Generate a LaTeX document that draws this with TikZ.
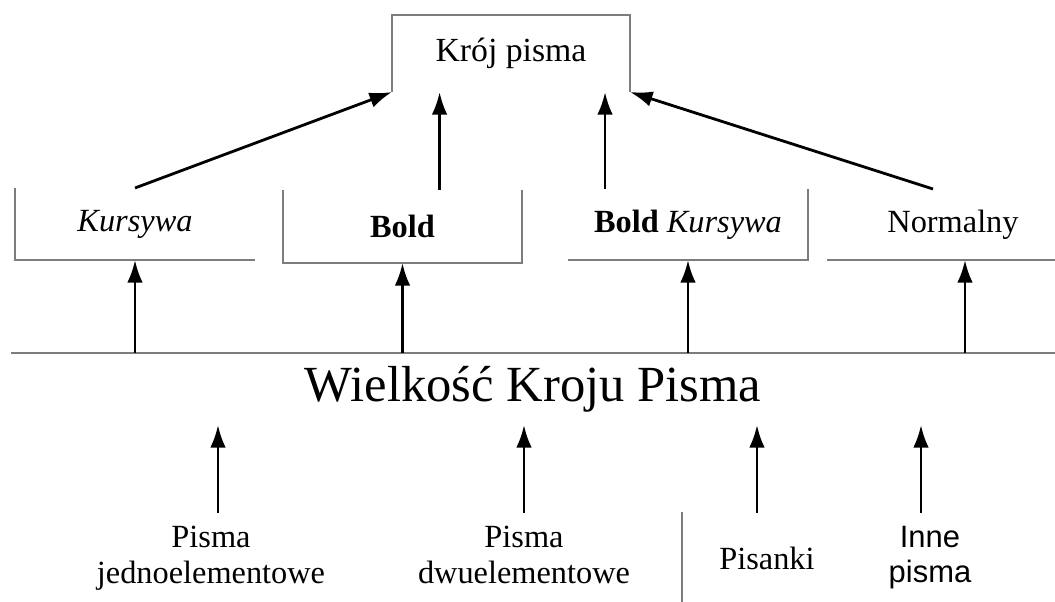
\documentclass[tikz,border=0pt]{standalone}
\usepackage{fontspec}
\setmainfont{Liberation Serif}
\newfontfamily\arialfont{Liberation Sans}
\usetikzlibrary{arrows.meta,calc}

\definecolor{rimgray}{RGB}{125,125,125}

\tikzset{
  box/.style={inner sep=0pt, outer sep=0pt, align=center},
  rim/.style={draw=rimgray, line width=1.3pt},
  up/.style={-{Latex[length=16pt,width=11pt]}, line width=2pt},
  small/.style={font=\fontsize{23}{25}\selectfont}
}

\begin{document}
\begin{tikzpicture}[x=0.025cm, y=-0.025cm]
  \useasboundingbox (0,0) rectangle (1055,602);

  % top and second row
  \node[box, minimum width=5.95cm, minimum height=1.925cm, font=\fontsize{24}{28}\selectfont] (kroj) at (511,53.5) {Krój pisma};
  \node[box, small, minimum width=6cm, minimum height=1.8cm] (kursywa) at (135,224) {\textit{Kursywa}};
  \node[box, small, minimum width=5.975cm, minimum height=1.825cm] (bold) at (402.5,226.5) {\textbf{Bold}};
  \node[box, small, minimum width=6cm, minimum height=1.775cm] (bkursywa) at (688,224.5) {\textbf{Bold} \textit{Kursywa}};
  \node[box, small, minimum width=6.3cm, minimum height=1.775cm] (normalny) at (953,224.5) {Normalny};

  % title with its base line
  \node[box, minimum width=26.1cm, minimum height=1.8cm, font=\fontsize{36}{40}\selectfont] (wielkosc) at (533,389) {Wielkość Kroju Pisma};

  % bottom row
  \node[box, small, minimum height=2.35cm] (jedno) at (211,560) {Pisma\\jednoelementowe\strut};
  \node[box, small, minimum height=2.35cm] (dwu) at (524,560) {Pisma\\dwuelementowe\strut};
  \node[box, small, minimum height=2.25cm] (pisanki) at (767,558) {Pisanki};
  \node[box, minimum height=2.35cm, font=\arialfont\fontsize{22}{25}\selectfont] (inne) at (930,560) {Inne\\pisma\strut};

  % frames
  \draw[rim] (kroj.south west) |- (kroj.north east) -- (kroj.south east);
  \draw[rim] (kursywa.north west) |- (kursywa.south east);
  \draw[rim] (bold.north west) |- (bold.south east) -- (bold.north east);
  \draw[rim] (bkursywa.south west) -- (bkursywa.south east) -- (bkursywa.north east);
  \draw[rim] (normalny.south west) -- (normalny.south east);
  \draw[rim] (wielkosc.north west) -- (wielkosc.north east);
  \draw[rim] (682,512) -- (682,602);

  % arrows to the top box
  \coordinate (k1) at ($(kroj.south west)!.2!(kroj.south east)$);
  \coordinate (k2) at ($(kroj.south west)!.895!(kroj.south east)$);
  \coordinate (n1) at ([xshift=-.5cm]normalny.north);
  \draw[up] (kursywa.north) -- (kroj.south west);
  \draw[up] (bold.north -| k1) -- (k1);
  \draw[up] (bkursywa.north -| k2) -- (k2);
  \draw[up] (n1) -- (kroj.south east);

  % arrows from the base line
  \coordinate (n2) at ([xshift=.3cm]normalny.south);
  \draw[up] (kursywa.south |- wielkosc.north) -- (kursywa.south);
  \draw[up] (bold.south |- wielkosc.north) -- (bold.south);
  \draw[up] (bkursywa.south |- wielkosc.north) -- (bkursywa.south);
  \draw[up] (n2 |- wielkosc.north) -- (n2);

  % arrows from the bottom row
  \coordinate (b1) at ([xshift=.175cm]jedno.north);
  \coordinate (b3) at ([xshift=-.25cm]pisanki.north);
  \coordinate (b4) at ([xshift=-.225cm]inne.north);
  \draw[up] (b1) -- (b1 |- wielkosc.south);
  \draw[up] (dwu.north) -- (dwu.north |- wielkosc.south);
  \draw[up] (b3) -- (b3 |- wielkosc.south);
  \draw[up] (b4) -- (b4 |- wielkosc.south);
\end{tikzpicture}
\end{document}
